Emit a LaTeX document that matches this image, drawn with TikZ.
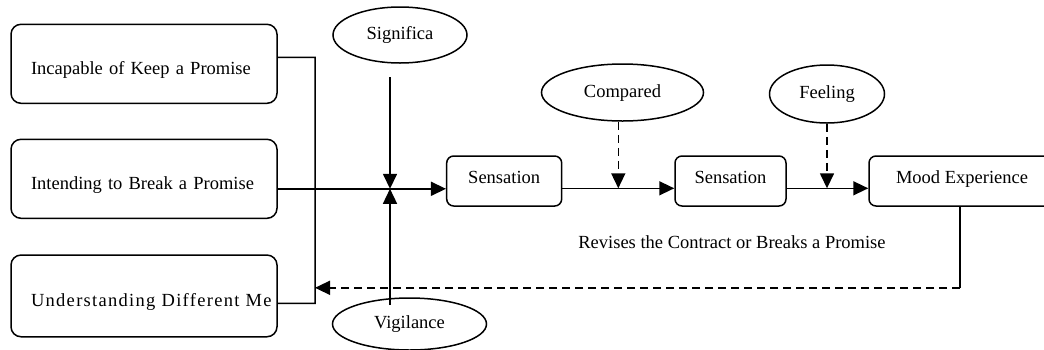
\documentclass[tikz,border=0pt]{standalone}
\usepackage{fontspec}
\setmainfont{Liberation Serif}
\usetikzlibrary{arrows.meta,shapes.geometric}

\tikzset{
  cause/.style={draw, rounded corners=10pt, minimum width=266pt, text width=226pt, inner xsep=20pt, align=left, text height=25pt, text depth=4pt},
  stage/.style={draw, rounded corners=7pt, minimum height=50pt, inner xsep=0pt, text height=12pt, text depth=8pt},
  factor/.style={draw, ellipse, inner sep=0pt, text height=13pt, text depth=4pt},
  headed/.style={-{Triangle[length=15pt,width=14pt]}},
  dashlink/.style={dash pattern=on 8pt off 5pt},
}

\begin{document}
\begin{tikzpicture}[x=1pt, y=-1pt, line width=1.5pt, font=\fontsize{18.5pt}{22pt}\selectfont]
        \clip (0,0) rectangle (1044,349);

        \node[cause, minimum height=79pt] (in1) at (144,63.8) {Incapable of Keep a Promise};
        \node[cause, minimum height=79pt] (in2) at (144,178.8) {Intending to Break a Promise};
        \node[cause, minimum height=81.7pt] (in3) at (144,295.9) {\mbox{\addfontfeature{LetterSpace=7}Understanding Different Me}};

        \node[stage, minimum width=115pt] (sen1) at (504.2,181) {Sensation};
        \node[stage, minimum width=111pt] (sen2) at (730.5,181) {Sensation};
        \node[stage, minimum width=186pt] (mood) at (962,181) {Mood Experience};

        \node[factor, minimum width=134pt, minimum height=56pt] (sig) at (400,35) {Significa};
        \node[factor, minimum width=162pt, minimum height=57pt] (cmp) at (622.5,92.5) {Compared};
        \node[factor, minimum width=115pt, minimum height=58pt] (feel) at (827,94) {Feeling};
        \node[factor, minimum width=154pt, minimum height=52pt] (vig) at (409.5,324) {Vigilance};

        \node (rev) at (732,242) {Revises the Contract or Breaks a Promise};

        \coordinate (join) at (390,188.8);
        \coordinate (sigbot) at (390,77);
        \coordinate (vigtop) at (390,305);
        \coordinate (bust) at (315,57.3);
        \coordinate (busb) at (315,303.3);
        \coordinate (cmpj) at (618.3,188.3);
        \coordinate (feelj) at (827,188.3);
        \coordinate (fbr) at (960,287.8);
        \coordinate (fbl) at (315,287.8);

        \draw ([yshift=6.5pt]in1.east) -- (bust) -- (busb) -- ([yshift=-7.4pt]in3.east);
        \draw[headed] ([yshift=-10pt]in2.east) -- (join) -- (join -| sen1.west);
        \draw[headed] (sigbot) -- (join);
        \draw[headed] (vigtop) -- (join);
        \draw[headed] (sen1.east |- cmpj) -- (sen2.west |- cmpj);
        \draw[headed] (sen2.east |- feelj) -- (mood.west |- feelj);
        \draw[headed, dashlink] (cmp.south -| cmpj) -- (cmpj);
        \draw[headed, dashlink] (feel.south) -- (feelj);
        \draw (mood.south -| fbr) -- (fbr);
        \draw[headed, dashlink] (fbr) -- (fbl);
\end{tikzpicture}
\end{document}
